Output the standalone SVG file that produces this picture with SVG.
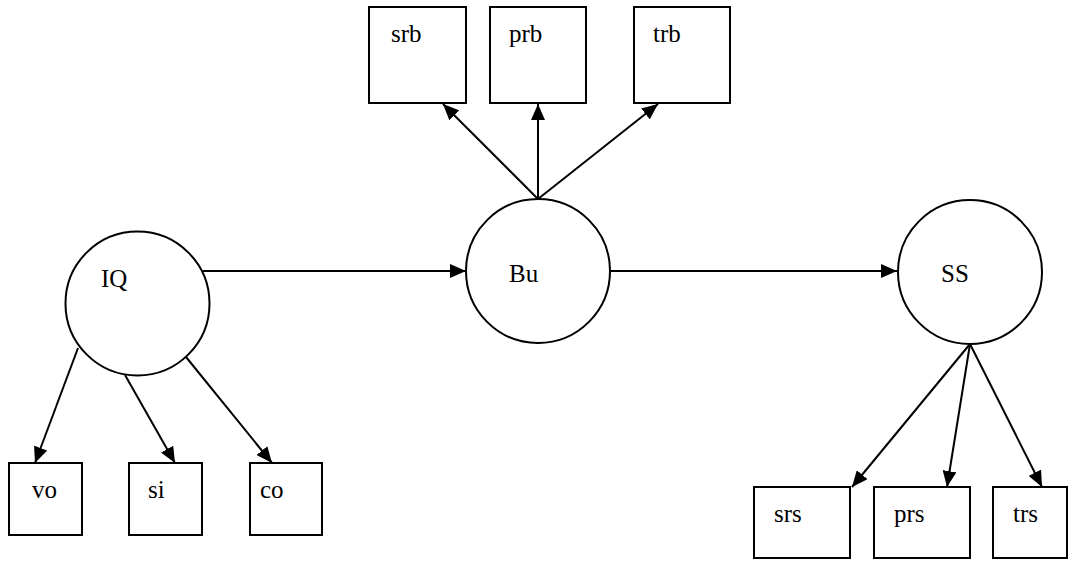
<svg xmlns="http://www.w3.org/2000/svg" width="1084" height="569" viewBox="0 0 1084 569">
<style>
.node{fill:#fff;stroke:#000;stroke-width:2}
.lbl{font-family:"Liberation Serif","Times New Roman",serif;font-size:25px;fill:#000}
.edge{stroke:#000;stroke-width:2;fill:none;marker-end:url(#arr)}
</style>
<defs>
<marker id="arr" markerUnits="userSpaceOnUse" markerWidth="16" markerHeight="14" refX="16" refY="7" orient="auto">
<path d="M0,0 L16,7 L0,14 z" fill="#000"/>
</marker>
</defs>
<rect width="1084" height="569" fill="#fff"/>
<g id="connectors">
<line class="edge" x1="538" y1="199" x2="443" y2="104"/>
<line class="edge" x1="538" y1="199" x2="538" y2="104"/>
<line class="edge" x1="538" y1="199" x2="658" y2="104"/>
<line class="edge" x1="203" y1="271" x2="466" y2="271"/>
<line class="edge" x1="610" y1="271" x2="897" y2="271"/>
<line class="edge" x1="78" y1="348" x2="35" y2="463"/>
<line class="edge" x1="125" y1="375" x2="175" y2="463"/>
<line class="edge" x1="186" y1="357" x2="272" y2="463"/>
<line class="edge" x1="970" y1="344" x2="852" y2="487"/>
<line class="edge" x1="970" y1="344" x2="947" y2="487"/>
<line class="edge" x1="970" y1="344" x2="1042" y2="487"/>
</g>
<g id="srb"><rect class="node" x="369" y="7" width="97" height="96"/><text class="lbl" x="391" y="42">srb</text></g>
<g id="prb"><rect class="node" x="490" y="7" width="96" height="96"/><text class="lbl" x="509" y="42">prb</text></g>
<g id="trb"><rect class="node" x="634" y="7" width="96" height="96"/><text class="lbl" x="653" y="42">trb</text></g>
<g id="IQ"><circle class="node" cx="137.5" cy="303.5" r="72"/><text class="lbl" x="101" y="287">IQ</text></g>
<g id="Bu"><circle class="node" cx="538" cy="271" r="72"/><text class="lbl" x="509" y="282">Bu</text></g>
<g id="SS"><circle class="node" cx="970" cy="272" r="72"/><text class="lbl" x="941" y="282">SS</text></g>
<g id="vo"><rect class="node" x="9" y="463" width="73" height="72"/><text class="lbl" x="32" y="498">vo</text></g>
<g id="si"><rect class="node" x="129" y="463" width="73" height="72"/><text class="lbl" x="148" y="498">si</text></g>
<g id="co"><rect class="node" x="250" y="463" width="72" height="72"/><text class="lbl" x="260" y="498">co</text></g>
<g id="srs"><rect class="node" x="754" y="487" width="96" height="71"/><text class="lbl" x="774" y="522">srs</text></g>
<g id="prs"><rect class="node" x="874" y="487" width="96" height="71"/><text class="lbl" x="894" y="522">prs</text></g>
<g id="trs"><rect class="node" x="993" y="487" width="74" height="71"/><text class="lbl" x="1013" y="522">trs</text></g>
</svg>
